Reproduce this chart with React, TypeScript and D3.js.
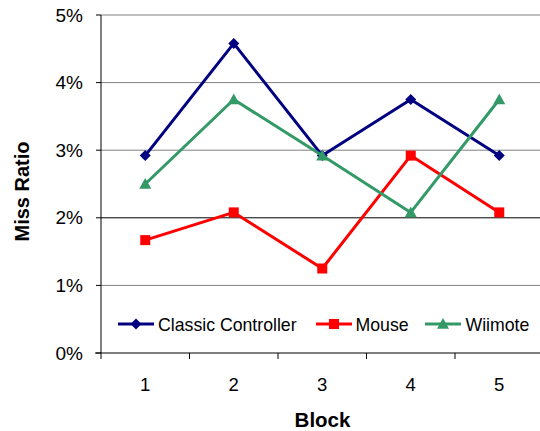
import React from "react";
import * as d3 from "d3";

const blocks = ["1", "2", "3", "4", "5"];
const classicController = [2.92, 4.58, 2.92, 3.75, 2.92];
const mouse = [1.67, 2.08, 1.25, 2.92, 2.08];
const wiimote = [2.5, 3.75, 2.92, 2.08, 3.75];
const yTicks = [0, 1, 2, 3, 4, 5];

const seriesList = [
  { name: "Classic Controller", values: classicController, color: "#000080", shape: "diamond" },
  { name: "Mouse", values: mouse, color: "#FF0000", shape: "square" },
  { name: "Wiimote", values: wiimote, color: "#339966", shape: "triangle" },
];

const W = 540;
const H = 431;
const left = 101;
const right = 543.5;
const top = 15;
const bottom = 353;
const font = "'Liberation Sans', Arial, sans-serif";

function Marker({ shape, x, y, color }: { shape: string; x: number; y: number; color: string }) {
  if (shape === "diamond") {
    const s = 5.5;
    return <path d={`M${x},${y - s}L${x + s},${y}L${x},${y + s}L${x - s},${y}Z`} fill={color} />;
  }
  if (shape === "square") {
    const s = 5;
    return <rect x={x - s} y={y - s} width={2 * s} height={2 * s} fill={color} />;
  }
  const s = 6;
  return <path d={`M${x},${y - s}L${x + s},${y + s * 0.8}L${x - s},${y + s * 0.8}Z`} fill={color} />;
}

export default function App() {
  const x = d3.scaleBand<string>().domain(blocks).range([left, right]);
  const y = d3.scaleLinear().domain([0, 5]).range([bottom, top]);
  const cx = (b: string) => (x(b) ?? 0) + x.bandwidth() / 2;
  const line = d3
    .line<number>()
    .x((_, i) => cx(blocks[i]))
    .y((v) => y(v));

  const legendY = 324;
  const legendItems = [
    { lx: 118, tx: 158 },
    { lx: 316, tx: 355.5 },
    { lx: 425, tx: 465.5 },
  ];

  return (
    <svg
      width={W}
      height={H}
      style={{ position: "absolute", left: 0, top: 0, background: "#fff" }}
    >
      {/* gridlines */}
      {yTicks.slice(1).map((t) => (
        <line
          key={t}
          x1={left}
          x2={W}
          y1={y(t)}
          y2={y(t)}
          stroke={t === 2 ? "#000" : "#808080"}
          strokeWidth={1}
        />
      ))}
      {/* axes */}
      <line x1={left} x2={left} y1={top} y2={bottom} stroke="#000" strokeWidth={1} />
      <line x1={left - 6} x2={W} y1={bottom} y2={bottom} stroke="#000" strokeWidth={1} />
      {yTicks.map((t) => (
        <g key={t}>
          <line x1={left - 5} x2={left} y1={y(t)} y2={y(t)} stroke="#000" />
          <text
            x={83}
            y={y(t)}
            dy="0.35em"
            textAnchor="end"
            fontFamily={font}
            fontSize={19}
            fill="#000"
          >
            {`${t}%`}
          </text>
        </g>
      ))}
      {blocks.map((b) => (
        <g key={b}>
          <line
            x1={x(b) ?? 0}
            x2={x(b) ?? 0}
            y1={bottom}
            y2={bottom + 6}
            stroke="#000"
          />
          <text
            x={cx(b)}
            y={391}
            textAnchor="middle"
            fontFamily={font}
            fontSize={18.5}
            fill="#000"
          >
            {b}
          </text>
        </g>
      ))}
      <text
        x={322.5}
        y={426.5}
        textAnchor="middle"
        fontFamily={font}
        fontSize={20.5}
        fontWeight="bold"
        fill="#000"
      >
        Block
      </text>
      <text
        transform={`translate(28.5,191.5) rotate(-90)`}
        textAnchor="middle"
        fontFamily={font}
        fontSize={20}
        fontWeight="bold"
        fill="#000"
      >
        Miss Ratio
      </text>

      {/* series */}
      {seriesList.map((s) => (
        <g key={s.name}>
          <path d={line(s.values) ?? ""} fill="none" stroke={s.color} strokeWidth={3} strokeLinejoin="round" />
          {s.values.map((v, i) => (
            <Marker key={i} shape={s.shape} x={cx(blocks[i])} y={y(v)} color={s.color} />
          ))}
        </g>
      ))}

      {/* legend */}
      {seriesList.map((s, i) => {
        const it = legendItems[i];
        return (
          <g key={s.name}>
            <line x1={it.lx} x2={it.lx + 36} y1={legendY} y2={legendY} stroke={s.color} strokeWidth={3} />
            <Marker shape={s.shape} x={it.lx + 18} y={legendY} color={s.color} />
            <text x={it.tx} y={331} fontFamily={font} fontSize={17.7} fill="#000">
              {s.name}
            </text>
          </g>
        );
      })}
    </svg>
  );
}
